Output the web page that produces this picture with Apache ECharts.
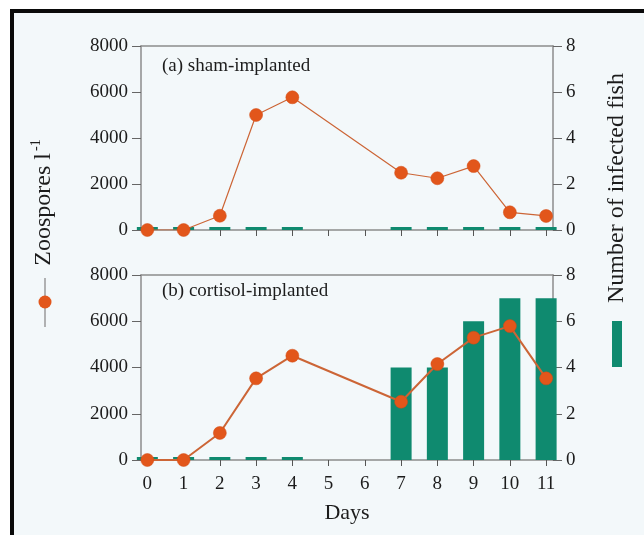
<!DOCTYPE html>
<html><head><meta charset="utf-8">
<script src="https://cdn.jsdelivr.net/npm/echarts@6/dist/echarts.min.js"></script>
<style>html,body{margin:0;padding:0;background:#fff}#c{width:644px;height:535px}</style>
</head><body><div id="c"></div>
<script>
const days = [0, 1, 2, 3, 4, 7, 8, 9, 10, 11];
const dayTicks = [0, 1, 2, 3, 4, 5, 6, 7, 8, 9, 10, 11];
const zoosA = [0, 0, 620, 5000, 5770, 2490, 2250, 2780, 770, 610];
const zoosB = [0, 0, 1170, 3530, 4510, 2520, 4150, 5290, 5790, 3530];
const fishA = [0, 0, 0, 0, 0, 0, 0, 0, 0, 0];
const fishB = [0, 0, 0, 0, 0, 4, 4, 6, 7, 7];
const leftMax = 8000, leftStep = 2000;
const rightMax = 8, rightStep = 2;
const panelTitles = ['(a) sham-implanted', '(b) cortisol-implanted'];

const FONT = 'Liberation Serif';
const TXT = '#1c1c1c';
const AXIS = '#8c8c8c';
const ORANGE = '#e2561b';
const GREEN = '#0f8a6f';

const chart = echarts.init(document.getElementById('c'), null, {renderer: 'canvas'});

function xBottom(gi, labels) {
  return {
    type: 'value', gridIndex: gi, position: 'bottom', min: -0.175, max: 11.19,
    axisLine: {show: true, onZero: false, lineStyle: {color: AXIS, width: 1.5}},
    axisTick: {show: true, inside: false, length: 6, customValues: dayTicks, lineStyle: {color: '#555', width: 1}},
    axisLabel: {show: labels, customValues: dayTicks, margin: 15, fontFamily: FONT, fontSize: 19, color: TXT},
    splitLine: {show: false},
    name: labels ? 'Days' : '', nameLocation: 'middle', nameGap: 42,
    nameTextStyle: {fontFamily: FONT, fontSize: 22, color: TXT}
  };
}
function xTop(gi) {
  return {
    type: 'value', gridIndex: gi, position: 'top', min: -0.175, max: 11.19,
    axisLine: {show: true, onZero: false, lineStyle: {color: AXIS, width: 1.5}},
    axisTick: {show: false}, axisLabel: {show: false}, splitLine: {show: false}
  };
}
function yAx(gi, pos, max, step) {
  return {
    type: 'value', gridIndex: gi, position: pos, min: 0, max: max, interval: step,
    axisLine: {show: true, onZero: false, lineStyle: {color: AXIS, width: 1.5}},
    axisTick: {show: true, inside: false, length: 9, lineStyle: {color: '#666', width: 1}},
    axisLabel: {margin: 13, fontFamily: FONT, fontSize: 19, color: TXT, formatter: v => String(v)},
    splitLine: {show: false}
  };
}
function pairs(xs, ys) { return xs.map((d, i) => [d, ys[i]]); }

function barSeries(xi, yi, vals) {
  return {
    type: 'bar', xAxisIndex: xi, yAxisIndex: yi, data: pairs(days, vals),
    barWidth: 21, barMinHeight: 3, itemStyle: {color: GREEN}, z: 2
  };
}
function lineSeries(xi, yi, vals, w) {
  return {
    type: 'line', xAxisIndex: xi, yAxisIndex: yi, data: pairs(days, vals),
    symbol: 'circle', symbolSize: 13,
    itemStyle: {color: ORANGE, borderColor: '#d24a12', borderWidth: 0.5},
    lineStyle: {color: '#cc6536', width: w}, z: 5
  };
}

const option = {
  animation: false,
  backgroundColor: '#ffffff',
  grid: [
    {left: 141, width: 412, top: 46, height: 184},
    {left: 141, width: 412, top: 275, height: 185}
  ],
  xAxis: [xBottom(0, false), xTop(0), xBottom(1, true), xTop(1)],
  yAxis: [
    yAx(0, 'left', leftMax, leftStep), yAx(0, 'right', rightMax, rightStep),
    yAx(1, 'left', leftMax, leftStep), yAx(1, 'right', rightMax, rightStep)
  ],
  series: [
    barSeries(0, 1, fishA),
    lineSeries(0, 0, zoosA, 1.2),
    barSeries(2, 3, fishB),
    lineSeries(2, 2, zoosB, 2)
  ],
  graphic: [
    {type: 'rect', z: -10, silent: true, shape: {x: 12, y: 11, width: 640, height: 530}, style: {fill: '#f3f8fa'}},
    {type: 'polyline', z: 100, silent: true, shape: {points: [[12, 540], [12, 11], [650, 11]]}, style: {stroke: '#0a0a0a', lineWidth: 4, fill: null}},
    {type: 'text', left: 162, top: 57, style: {text: panelTitles[0], font: '19px "Liberation Serif"', fill: TXT}},
    {type: 'text', left: 162, top: 282, style: {text: panelTitles[1], font: '19px "Liberation Serif"', fill: TXT}},
    {type: 'group', x: 44, y: 207, rotation: Math.PI / 2, children: [
      {type: 'text', x: 54, y: 0, style: {text: 'Zoospores l', font: '24px "Liberation Serif"', fill: TXT, align: 'right', verticalAlign: 'middle'}},
      {type: 'text', x: 56, y: -8, style: {text: '-1', font: '14px "Liberation Serif"', fill: TXT, align: 'left', verticalAlign: 'middle'}}
    ]},
    {type: 'line', shape: {x1: 45, y1: 278, x2: 45, y2: 327}, style: {stroke: '#9a9a9a', lineWidth: 1.5}},
    {type: 'circle', shape: {cx: 45, cy: 302, r: 6.5}, style: {fill: ORANGE}},
    {type: 'text', x: 617, y: 188, rotation: Math.PI / 2, style: {text: 'Number of infected fish', font: '24px "Liberation Serif"', fill: TXT, align: 'center', verticalAlign: 'middle'}},
    {type: 'rect', shape: {x: 612, y: 321, width: 10, height: 46}, style: {fill: GREEN}}
  ]
};
chart.setOption(option);
</script>
</body></html>
